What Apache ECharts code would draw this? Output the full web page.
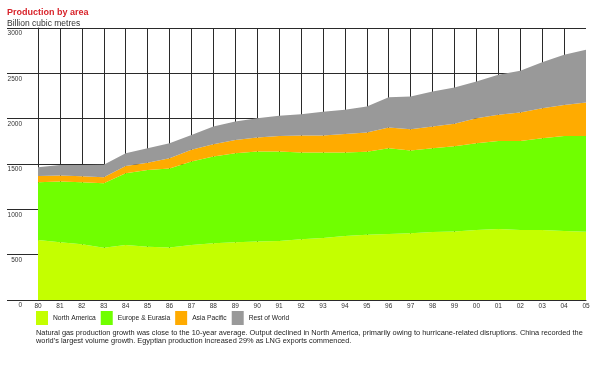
<!DOCTYPE html>
<html>
<head>
<meta charset="utf-8">
<script src="https://cdn.jsdelivr.net/npm/echarts@6/dist/echarts.min.js"></script>
<style>
html,body{margin:0;padding:0;background:#fff;}
#chart{width:602px;height:374px;}
</style>
</head>
<body>
<div id="chart"></div>
<script>
var years = ['80','81','82','83','84','85','86','87','88','89','90','91','92','93','94','95','96','97','98','99','00','01','02','03','04','05'];
var northAmerica = [662,637,615,577,607,588,580,607,626,637,644,651,670,685,706,721,728,736,751,755,773,784,773,773,762,754];
var europeEurasia = [637,669,684,711,791,847,870,920,956,982,993,986,956,941,920,913,946,912,923,942,956,971,982,1012,1048,1056];
var asiaPacific = [70,66,66,66,81,80,114,129,136,147,155,173,188,188,206,213,228,236,239,248,276,287,312,331,342,368];
var restOfWorld = [95,118,125,139,140,159,166,165,195,202,213,221,236,261,265,287,335,360,386,400,404,441,461,507,552,581];
var seriesNames = ['North America','Europe & Eurasia','Asia Pacific','Rest of World'];
var seriesColors = ['#c4ff00','#70ff00','#ffab00','#999999'];
var captionLines = [
  'Natural gas production growth was close to the 10-year average. Output declined in North America, primarily owing to hurricane-related disruptions. China recorded the',
  "world\u2019s largest volume growth. Egyptian production increased 29% as LNG exports commenced."
];

var FONT = '"Liberation Sans", Arial, sans-serif';
var LINE = '#2a2a2a';
var values = [northAmerica, europeEurasia, asiaPacific, restOfWorld];

var chart = echarts.init(document.getElementById('chart'), null, {renderer:'canvas'});
chart.setOption({
  animation:false,
  backgroundColor:'#ffffff',
  textStyle:{fontFamily:FONT},
  title:{
    text:'Production by area',
    subtext:'Billion cubic metres',
    left:7, top:8, padding:0, itemGap:2,
    textStyle:{fontFamily:FONT,fontSize:9,fontWeight:'bold',color:'#d8232a'},
    subtextStyle:{fontFamily:FONT,fontSize:8.5,color:'#333333'}
  },
  legend:{
    data:seriesNames,
    left:36, top:311, padding:0,
    icon:'rect', itemWidth:12, itemHeight:14, itemGap:5,
    textStyle:{fontFamily:FONT,fontSize:6.7,color:'#222222'}
  },
  grid:{left:38, right:16, top:28, bottom:74, containLabel:false},
  xAxis:{
    type:'category',
    data:years,
    boundaryGap:false,
    axisLine:{show:true,lineStyle:{color:LINE,width:1}},
    axisTick:{show:false},
    axisLabel:{fontFamily:FONT,fontSize:6.5,color:'#333333',margin:3,interval:0},
    splitLine:{show:true,interval:function(i){return i<years.length-1;},lineStyle:{color:LINE,width:1}}
  },
  yAxis:{
    type:'value',
    min:0, max:3000, interval:500,
    axisLine:{show:true,lineStyle:{color:LINE,width:1}},
    axisTick:{show:true,inside:false,length:31,lineStyle:{color:LINE,width:1}},
    axisLabel:{fontFamily:FONT,fontSize:6.5,color:'#333333',margin:16,align:'right',verticalAlign:'top',padding:[2,0,0,0],
      formatter:function(v){return String(v);}},
    splitLine:{show:true,lineStyle:{color:LINE,width:1}}
  },
  series:seriesNames.map(function(n,i){
    return {
      name:n, type:'line', stack:'total', data:values[i],
      symbol:'none', color:seriesColors[i],
      lineStyle:{width:0},
      areaStyle:{color:seriesColors[i],opacity:1}
    };
  }),
  graphic:[{
    type:'text', left:36, top:329,
    style:{text:captionLines.join('\n'),font:'7.4px '+FONT,fill:'#222222',lineHeight:8}
  }]
});
</script>
</body>
</html>
